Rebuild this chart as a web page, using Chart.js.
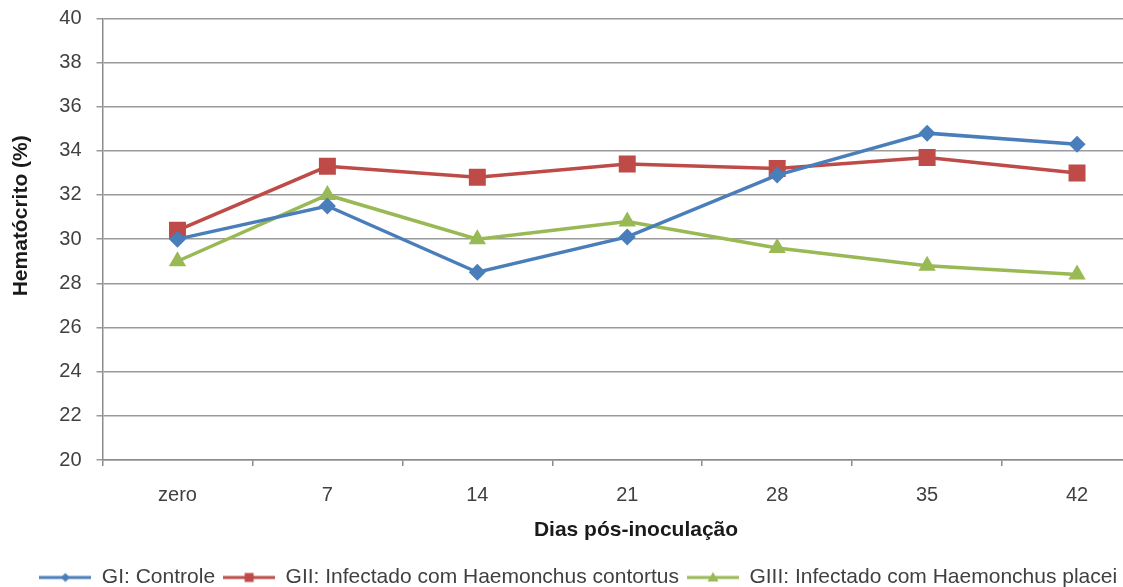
<!DOCTYPE html>
<html lang="pt">
<head>
<meta charset="utf-8">
<title>Hematócrito por dias pós-inoculação</title>
<script src="https://cdn.jsdelivr.net/npm/chart.js@4.4.1/dist/chart.umd.min.js"></script>
<style>
  html, body { margin: 0; padding: 0; background: #ffffff; overflow: hidden; }
  #wrap { width: 1164px; height: 598px; }
</style>
</head>
<body>
<div id="wrap"><canvas id="hct" width="1164" height="598"></canvas></div>
<script>
// Dias de coleta (eixo X)
const dias = ['zero', '7', '14', '21', '28', '35', '42'];

// Hematócrito médio (%) por grupo
const gI   = [30.0, 31.5, 28.5, 30.1, 32.9, 34.8, 34.3];
const gII  = [30.4, 33.3, 32.8, 33.4, 33.2, 33.7, 33.0];
const gIII = [29.0, 32.0, 30.0, 30.8, 29.6, 28.8, 28.4];

// Rótulos das séries
const nomes = [
  'GI: Controle',
  'GII: Infectado com Haemonchus contortus',
  'GIII: Infectado com Haemonchus placei'
];

// Escala do eixo Y
const yMin = 20, yMax = 40, yPasso = 2;

const azul = '#4a7ebb', vermelho = '#be4b48', verde = '#98b954';
const fonte = '"Liberation Sans", Arial, sans-serif';

// Ícone da legenda: linha com o marcador ao centro
function iconeLegenda(cor, forma) {
  const c = document.createElement('canvas');
  c.width = 52; c.height = 16;
  const g = c.getContext('2d');
  g.strokeStyle = cor; g.lineWidth = 3;
  g.beginPath(); g.moveTo(0, 8); g.lineTo(52, 8); g.stroke();
  g.fillStyle = cor;
  g.beginPath();
  if (forma === 'rectRot') {
    g.moveTo(26, 3.5); g.lineTo(30.5, 8); g.lineTo(26, 12.5); g.lineTo(21.5, 8);
  } else if (forma === 'rect') {
    g.rect(21.5, 3.5, 9, 9);
  } else {
    g.moveTo(26, 2.5); g.lineTo(31.5, 12); g.lineTo(20.5, 12);
  }
  g.closePath(); g.fill();
  return c;
}

const formas = ['rectRot', 'rect', 'triangle'];
const cores = [azul, vermelho, verde];
const icones = formas.map((f, i) => iconeLegenda(cores[i], f));

function serie(i, valores, raio) {
  return {
    label: nomes[i],
    data: valores,
    borderColor: cores[i],
    backgroundColor: cores[i],
    borderWidth: 3.5,
    pointStyle: formas[i],
    pointRadius: raio,
    pointHoverRadius: raio,
    pointBorderWidth: 0,
    tension: 0
  };
}

new Chart(document.getElementById('hct'), {
  type: 'line',
  data: {
    labels: dias,
    datasets: [serie(0, gI, 8.5), serie(1, gII, 12), serie(2, gIII, 10)]
  },
  options: {
    responsive: false,
    animation: false,
    devicePixelRatio: 1,
    layout: { padding: { top: 18.3, right: 7.5, bottom: 0, left: 0 } },
    plugins: {
      tooltip: { enabled: false },
      legend: {
        position: 'bottom',
        labels: {
          usePointStyle: true,
          pointStyleWidth: 52,
          padding: 8,
          color: '#404040',
          font: { family: fonte, size: 21 },
          generateLabels(chart) {
            const itens = Chart.defaults.plugins.legend.labels.generateLabels(chart);
            itens.forEach(it => { it.pointStyle = icones[it.datasetIndex]; });
            return itens;
          }
        }
      }
    },
    scales: {
      x: {
        offset: true,
        afterFit(s) { s.height = 99; },
        grid: { offset: true, drawOnChartArea: false, drawTicks: true, tickLength: 6, color: '#8c8c8c', lineWidth: 1.5 },
        border: { color: '#8c8c8c', width: 1.5 },
        ticks: { color: '#404040', padding: 17, font: { family: fonte, size: 20 } },
        title: {
          display: true,
          text: '   Dias pós-inoculação',
          color: '#1a1a1a',
          font: { family: fonte, size: 21, weight: 'bold' },
          padding: { top: 0, bottom: 16.4 }
        }
      },
      y: {
        min: yMin,
        max: yMax,
        afterFit(s) {
          s.width = 102.5;
          s.paddingTop = 0;
          s.paddingBottom = 0;
        },
        grid: { color: '#9a9a9a', lineWidth: 1.5, tickLength: 6, drawTicks: true },
        border: { color: '#8c8c8c', width: 1.5 },
        ticks: { stepSize: yPasso, color: '#404040', padding: 15, font: { family: fonte, size: 20 } },
        title: {
          display: true,
          text: '        Hematócrito (%)',
          color: '#1a1a1a',
          font: { family: fonte, size: 21, weight: 'bold' },
          padding: { top: 9, bottom: 0 }
        }
      }
    }
  }
});
</script>
</body>
</html>
